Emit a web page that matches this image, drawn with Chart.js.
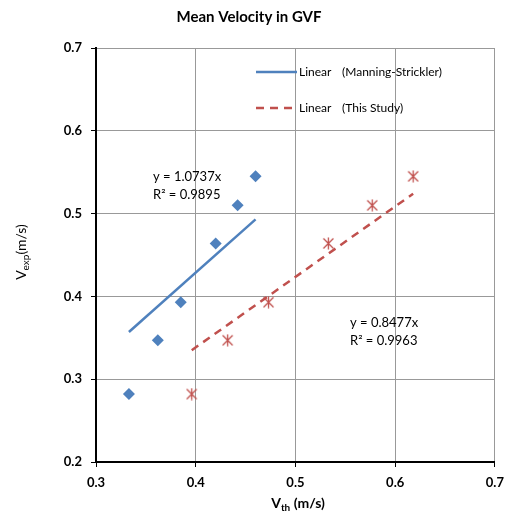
<!DOCTYPE html>
<html>
<head>
<meta charset="utf-8">
<script src="https://cdn.jsdelivr.net/npm/chart.js@4"></script>
<style>
  body { margin: 0; background: #fff; }
  canvas { display: block; }
</style>
</head>
<body>
<canvas id="gvfChart" width="512" height="512"></canvas>
<script>
// Datele
const vthManning = [0.333, 0.362, 0.385, 0.420, 0.442, 0.460];
const vthStudy = [0.396, 0.432, 0.473, 0.533, 0.577, 0.618];
const vexp = [0.282, 0.347, 0.393, 0.464, 0.510, 0.545];

// Capetele liniilor de tendinta
const fitManningX = [0.333, 0.460];
const fitManningY = [0.357, 0.493];
const fitStudyX = [0.396, 0.618];
const fitStudyY = [0.335, 0.524];

const xTicks = [0.3, 0.4, 0.5, 0.6, 0.7];
const yTicks = [0.2, 0.3, 0.4, 0.5, 0.6, 0.7];

const blue = '#4F81BD';
const red = '#C0504D';
const fontFam = 'Lato, "Liberation Sans", sans-serif';

// Marker asterisc (X + linie verticala)
function makeStar(size, color) {
    const c = document.createElement('canvas');
    c.width = size; c.height = size;
    const g = c.getContext('2d');
    g.strokeStyle = color;
    g.lineWidth = 1.3;
    const m = 1.5, s = size - 1.5;
    g.beginPath();
    g.moveTo(m, m); g.lineTo(s, s);
    g.moveTo(s, m); g.lineTo(m, s);
    g.moveTo(size / 2, 0.5); g.lineTo(size / 2, size - 0.5);
    g.stroke();
    return c;
}
const starImg = makeStar(13, red);

const pts = (xs, ys) => xs.map((x, i) => ({ x: x, y: ys[i] }));

// Text suplimentar: titlu, legenda, ecuatii, titluri de axe
const extrasPlugin = {
    id: 'extras',
    afterDraw(chart) {
        const ctx = chart.ctx;
        ctx.save();
        ctx.fillStyle = '#000';
        ctx.textBaseline = 'middle';

        // titlu
        ctx.font = 'bold 15px ' + fontFam;
        ctx.textAlign = 'center';
        ctx.fillText('Mean Velocity in GVF', 249, 17);

        // legenda
        ctx.lineWidth = 2.5;
        ctx.strokeStyle = blue;
        ctx.beginPath(); ctx.moveTo(256, 72); ctx.lineTo(297, 72); ctx.stroke();
        ctx.strokeStyle = red;
        ctx.setLineDash([8, 6]);
        ctx.beginPath(); ctx.moveTo(256, 108); ctx.lineTo(297, 108); ctx.stroke();
        ctx.setLineDash([]);
        ctx.font = '12px ' + fontFam;
        ctx.textAlign = 'left';
        ctx.fillText('Linear', 299, 72);
        ctx.fillText('(Manning-Strickler)', 342, 72);
        ctx.fillText('Linear', 299, 108);
        ctx.fillText('(This Study)', 342, 108);

        // ecuatii
        ctx.font = '13px ' + fontFam;
        ctx.fillText('y = 1.0737x', 153, 177);
        ctx.fillText('R² = 0.9895', 153, 195);
        ctx.fillText('y = 0.8477x', 350, 323);
        ctx.fillText('R² = 0.9963', 350, 341);

        // titlu axa X
        ctx.font = 'bold 14px ' + fontFam;
        let w1 = ctx.measureText('V').width;
        ctx.font = 'bold 10px ' + fontFam;
        let w2 = ctx.measureText('th').width;
        ctx.font = 'bold 14px ' + fontFam;
        let w3 = ctx.measureText(' (m/s)').width;
        let x0 = 298 - (w1 + w2 + w3) / 2;
        ctx.fillText('V', x0, 503);
        ctx.font = 'bold 10px ' + fontFam;
        ctx.fillText('th', x0 + w1, 508);
        ctx.font = 'bold 14px ' + fontFam;
        ctx.fillText(' (m/s)', x0 + w1 + w2, 503);

        // titlu axa Y
        ctx.translate(21, 252);
        ctx.rotate(-Math.PI / 2);
        ctx.font = '14px ' + fontFam;
        w1 = ctx.measureText('V').width;
        ctx.font = '10px ' + fontFam;
        w2 = ctx.measureText('exp').width;
        ctx.font = '14px ' + fontFam;
        w3 = ctx.measureText('(m/s)').width;
        x0 = -(w1 + w2 + w3) / 2;
        ctx.fillText('V', x0, 0);
        ctx.font = '10px ' + fontFam;
        ctx.fillText('exp', x0 + w1, 5);
        ctx.font = '14px ' + fontFam;
        ctx.fillText('(m/s)', x0 + w1 + w2, 0);
        ctx.restore();
    }
};

const ctxChart = document.getElementById('gvfChart').getContext('2d');

new Chart(ctxChart, {
    type: 'scatter',
    data: {
        datasets: [
            {
                label: 'Linear (Manning-Strickler)',
                data: pts(fitManningX, fitManningY),
                showLine: true,
                borderColor: blue,
                borderWidth: 2.5,
                pointRadius: 0
            },
            {
                label: 'Linear (This Study)',
                data: pts(fitStudyX, fitStudyY),
                showLine: true,
                borderColor: red,
                borderWidth: 2.5,
                borderDash: [8, 6],
                pointRadius: 0
            },
            {
                label: 'Manning-Strickler',
                data: pts(vthManning, vexp),
                pointStyle: 'rectRot',
                pointRadius: 6,
                backgroundColor: blue,
                borderColor: blue,
                borderWidth: 0
            },
            {
                label: 'This Study',
                data: pts(vthStudy, vexp),
                pointStyle: starImg,
                pointRadius: 6
            }
        ]
    },
    options: {
        responsive: false,
        animation: false,
        layout: { padding: { top: 48, right: 12, left: 0, bottom: 0 } },
        plugins: {
            legend: { display: false },
            title: { display: false },
            tooltip: { enabled: false }
        },
        scales: {
            x: {
                type: 'linear',
                min: 0.3,
                max: 0.7,
                afterBuildTicks: s => { s.ticks = xTicks.map(v => ({ value: v })); },
                afterFit: s => { s.height = 50; },
                ticks: {
                    callback: v => v.toFixed(1),
                    color: '#000',
                    font: { family: fontFam, size: 13, weight: 'bold' },
                    padding: 8
                },
                grid: { color: '#999', tickColor: '#000', tickLength: 5, lineWidth: 1 },
                border: { color: '#000', width: 2 }
            },
            y: {
                type: 'linear',
                min: 0.2,
                max: 0.7,
                afterBuildTicks: s => { s.ticks = yTicks.map(v => ({ value: v })); },
                afterFit: s => { s.width = 96; },
                ticks: {
                    callback: v => v.toFixed(1),
                    color: '#000',
                    font: { family: fontFam, size: 13, weight: 'bold' },
                    padding: 9
                },
                grid: { color: '#999', tickColor: '#000', tickLength: 5, lineWidth: 1 },
                border: { color: '#000', width: 2 }
            }
        }
    },
    plugins: [extrasPlugin]
});
</script>
</body>
</html>
